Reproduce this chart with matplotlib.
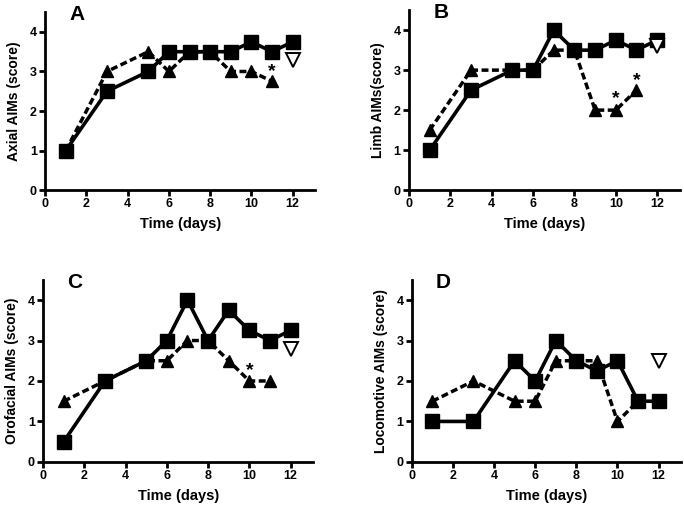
import matplotlib
matplotlib.use("Agg")
from matplotlib import pyplot as plt

plt.rcParams['font.family'] = ['Liberation Sans', 'DejaVu Sans']
plt.rcParams['font.weight'] = 'bold'

days_sq = [1, 3, 5, 6, 7, 8, 9, 10, 11, 12]
days_tri = [1, 3, 5, 6, 7, 8, 9, 10, 11]

axial_sq = [1, 2.5, 3, 3.5, 3.5, 3.5, 3.5, 3.75, 3.5, 3.75]
axial_tri = [1, 3, 3.5, 3, 3.5, 3.5, 3, 3, 2.75]
axial_open = 3.3
axial_stars = [(11, 3.0)]

limb_sq = [1, 2.5, 3, 3, 4, 3.5, 3.5, 3.75, 3.5, 3.75]
limb_tri = [1.5, 3, 3, 3, 3.5, 3.5, 2, 2, 2.5]
limb_open = 3.6
limb_stars = [(10, 2.3), (11, 2.75)]

oro_sq = [0.5, 2, 2.5, 3, 4, 3, 3.75, 3.25, 3, 3.25]
oro_tri = [1.5, 2, 2.5, 2.5, 3, 3, 2.5, 2, 2]
oro_open = 2.8
oro_stars = [(10, 2.25)]

loco_sq = [1, 1, 2.5, 2, 3, 2.5, 2.25, 2.5, 1.5, 1.5]
loco_tri = [1.5, 2, 1.5, 1.5, 2.5, 2.5, 2.5, 1, 1.5]
loco_open = 2.5
loco_stars = []

panels = [
    ("A", "Axial AIMs (score)", axial_sq, axial_tri, axial_open, axial_stars, [0.066, 0.625, 0.395, 0.351]),
    ("B", "Limb AIMs(score)", limb_sq, limb_tri, limb_open, limb_stars, [0.598, 0.625, 0.396, 0.355]),
    ("C", "Orofacial AIMs (score)", oro_sq, oro_tri, oro_open, oro_stars, [0.063, 0.089, 0.395, 0.359]),
    ("D", "Locomotive AIMs (score)", loco_sq, loco_tri, loco_open, loco_stars, [0.602, 0.089, 0.394, 0.359]),
]

fig = plt.figure(figsize=(6.84, 5.07), dpi=100)

for letter, ylabel, sq, tri, opn, stars, pos in panels:
    ax = fig.add_axes(pos)
    ax.plot(days_tri, tri, linestyle=(0, (2, 1)), color='black', linewidth=2.5,
            marker='^', markersize=8, zorder=2)
    ax.plot(days_sq, sq, linestyle='-', color='black', linewidth=2.6,
            marker='s', markersize=9.5, zorder=3)
    ax.plot([12], [opn], linestyle='None', marker='v', markersize=10,
            markerfacecolor='white', markeredgecolor='black', markeredgewidth=1.4, zorder=4)
    for sx, sy in stars:
        ax.text(sx, sy, "*", ha='center', va='center', fontsize=14, fontweight='bold')

    ax.set_xlim(0, 13.1)
    ax.set_ylim(0, 4.5)
    ax.set_xticks(range(0, 13, 2))
    ax.set_yticks(range(0, 5))
    for s in ['top', 'right']:
        ax.spines[s].set_visible(False)
    for s in ['left', 'bottom']:
        ax.spines[s].set_linewidth(2)
    ax.tick_params(direction='out', length=4, width=2, labelsize=9, pad=2)
    for lab in ax.get_xticklabels() + ax.get_yticklabels():
        lab.set_fontweight('bold')
    ax.set_xlabel("Time (days)", fontsize=10.5, fontweight='bold', labelpad=5)
    ax.set_ylabel(ylabel, fontsize=10, fontweight='bold', labelpad=6)
    ax.text(0.09, 1.04, letter, transform=ax.transAxes, fontsize=15,
            fontweight='bold', ha='left', va='top')

fig.savefig("out.png", dpi=100)
